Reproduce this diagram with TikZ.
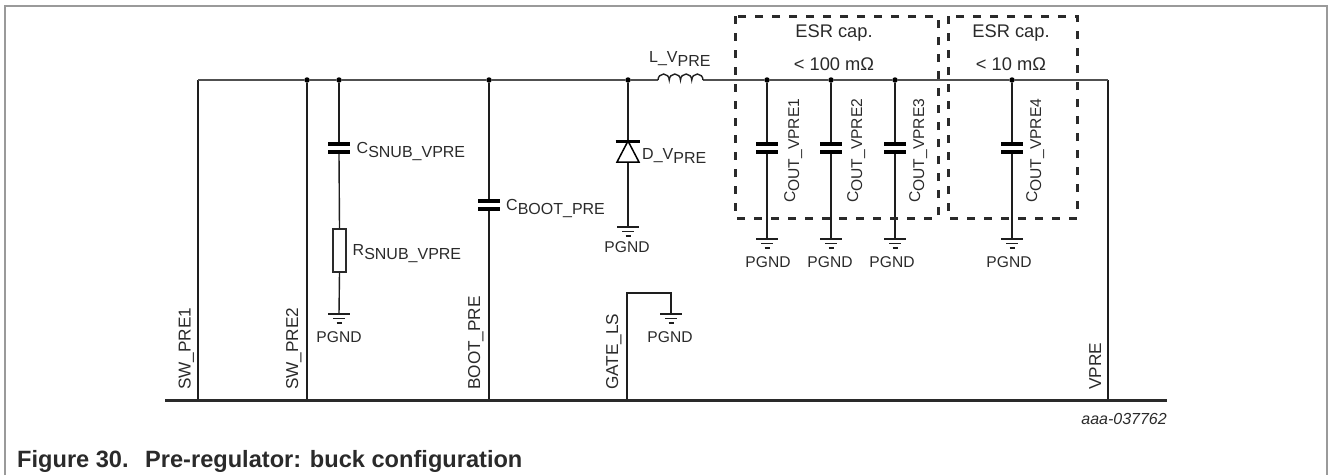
\documentclass[tikz,border=0pt]{standalone}
\usepackage{fontspec}
\setmainfont{Liberation Sans}
\definecolor{ink}{HTML}{2A2A2A}
\definecolor{wire}{HTML}{1E1E1E}
\definecolor{mainw}{HTML}{505050}
\definecolor{framec}{HTML}{9A9A9A}
\newcommand{\lowsub}[1]{\raisebox{-4pt}{#1}}
\newcommand{\lab}{\fontsize{15.6}{18}\selectfont}
\tikzset{
  x=1pt,y=-1pt,
  wireline/.style={draw=wire,line width=1.4pt},
  mainwire/.style={draw=mainw,line width=2pt},
  busline/.style={draw=ink,line width=3pt},
  framel/.style={draw=framec,line width=1.3pt},
  dashbox/.style={draw=ink,line width=3pt,dash pattern=on 8pt off 9pt},
  dotj/.style={circle,fill=black,inner sep=0pt,minimum size=5.5pt},
  capsym/.style={rectangle,inner sep=0pt,minimum width=22pt,minimum height=11.5pt,
    path picture={\fill[black] (path picture bounding box.north west) rectangle ([yshift=-3.4pt]path picture bounding box.north east);
      \fill[black] (path picture bounding box.south west) rectangle ([yshift=3.4pt]path picture bounding box.south east);}},
  resbox/.style={rectangle,draw=ink,line width=1.4pt,fill=white,inner sep=0pt,minimum width=13pt,minimum height=43pt},
  labelt/.style={text=ink,font=\lab,inner sep=0pt},
  sublabel/.style={text=ink,font=\fontsize{16}{18}\selectfont,inner sep=0pt,anchor=base west},
  pinlabel/.style={text=ink,font=\fontsize{17.2}{20}\selectfont,inner sep=0pt,rotate=90,anchor=base west},
  coutlabel/.style={text=ink,font=\lab,inner sep=0pt,rotate=90,anchor=base west},
  bigt/.style={text=ink,font=\fontsize{18.3}{21}\selectfont,inner sep=0pt},
  gndsym/.pic={
    \draw[wire,line width=1.3pt] (-11,0) -- (11,0);
    \draw[wire,line width=1.3pt] (-6,4.5) -- (6,4.5);
    \draw[wire,line width=1.3pt] (-2.5,9) -- (2.5,9);
  }
}
\begin{document}
\begin{tikzpicture}
\useasboundingbox (0,0) rectangle (1328,475);
% page frame
\draw[framel] (5,475) -- (5,6) -- (1327,6) -- (1327,475);

% junctions
\coordinate (corner) at (198,80);
\coordinate (endr) at (1108,80);
\node[dotj] (j2) at (307,80) {};
\node[dotj] (j3) at (339,80) {};
\node[dotj] (j4) at (489,80) {};
\node[dotj] (j5) at (628,80) {};
\node[dotj] (j6) at (767,80) {};
\node[dotj] (j7) at (831,80) {};
\node[dotj] (j8) at (895,80) {};
\node[dotj] (j9) at (1012,80) {};

% bus
\coordinate (busl) at (165,400);
\coordinate (busr) at (1167,400);
\coordinate (b1) at (198,400);
\coordinate (b2) at (307,400);
\coordinate (b3) at (489,400);
\coordinate (b4) at (627,400);
\coordinate (b5) at (1108,400);

% inductor
\coordinate (indl) at (658,80);
\coordinate (indr) at (703,80);

% components
\node[capsym] (csnub) at (339,148) {};
\node[resbox] (rsnub) at (339.5,250.5) {};
\node[capsym] (cboot) at (489,205) {};
\node[capsym] (c1) at (767,148) {};
\node[capsym] (c2) at (831,148) {};
\node[capsym] (c3) at (895,148) {};
\node[capsym] (c4) at (1012,148) {};

% ground points
\coordinate (g1) at (339,314);
\coordinate (g2) at (628,227);
\coordinate (g3) at (767,239);
\coordinate (g4) at (831,239);
\coordinate (g5) at (895,239);
\coordinate (g6) at (1012,239);
\coordinate (g7) at (671,314);
\coordinate (gl1) at (627,293);
\coordinate (gl2) at (671,293);
\foreach \g in {g1,g2,g3,g4,g5,g6,g7} \pic at (\g) {gndsym};

% diode
\coordinate (dk) at (628,141);
\coordinate (da) at (628,162);

% wires
\path[wireline] (endr) -- (b5);
\path[wireline] (corner) -- (b1);
\path[mainwire] (corner) -- (j2) -- (j3) -- (j4) -- (j5) -- (indl);
\path[mainwire] (indr) -- (j6) -- (j7) -- (j8) -- (j9) -- (endr);
\path[wireline] (j2) -- (b2);
\path[wireline] (j3) -- (csnub.north);
\path[wireline] (csnub.south) -- (rsnub.north);
\path[wireline] (rsnub.south) -- (g1);
\path[wireline] (j4) -- (cboot.north);
\path[wireline] (cboot.south) -- (b3);
\path[wireline] (j5) -- (dk);
\path[wireline] (da) -- (g2);
\path[wireline] (j6) -- (c1.north);
\path[wireline] (c1.south) -- (g3);
\path[wireline] (j7) -- (c2.north);
\path[wireline] (c2.south) -- (g4);
\path[wireline] (j8) -- (c3.north);
\path[wireline] (c3.south) -- (g5);
\path[wireline] (j9) -- (c4.north);
\path[wireline] (c4.south) -- (g6);
\path[wireline] (b4) -- (gl1) -- (gl2) -- (g7);
\path[busline] (busl) -- (busr);

% inductor humps
\draw[wire,line width=1.4pt] (indl) arc[start angle=180,end angle=0,x radius=5.625pt,y radius=6pt]
  arc[start angle=180,end angle=0,x radius=5.625pt,y radius=6pt]
  arc[start angle=180,end angle=0,x radius=5.625pt,y radius=6pt]
  arc[start angle=180,end angle=0,x radius=5.625pt,y radius=6pt];

% diode symbol
\draw[black,line width=1.5pt,line join=miter] (dk) -- (617,162) -- (639,162) -- cycle;
\draw[black,line width=3pt] (615.5,141) -- (640,141);

% dashed boxes
\draw[dashbox] (735,16) rectangle (938,218);
\draw[dashbox] (948,16) rectangle (1077,218);

% texts
\node[sublabel] (tcs) at (356.5,153) {C\lowsub{SNUB\_VPRE}};
\node[sublabel] (trs) at (352.5,255) {R\lowsub{SNUB\_VPRE}};
\node[sublabel] (tcb) at (506,210) {C\lowsub{BOOT\_PRE}};
\node[sublabel] (tdv) at (642,159) {D\_V\lowsub{PRE}};
\node[sublabel] (tlv) at (649,62) {L\_V\lowsub{PRE}};
\node[labelt] (p1) at (339,337) {PGND};
\node[labelt] (p2) at (627,247) {PGND};
\node[labelt] (p3) at (768,262) {PGND};
\node[labelt] (p4) at (830,262) {PGND};
\node[labelt] (p5) at (892,262) {PGND};
\node[labelt] (p6) at (1009,262) {PGND};
\node[labelt] (p7) at (670,337) {PGND};
\node[coutlabel] (tc1) at (795,203) {C\lowsub{OUT\_VPRE1}};
\node[coutlabel] (tc2) at (858,203) {C\lowsub{OUT\_VPRE2}};
\node[coutlabel] (tc3) at (920,203) {C\lowsub{OUT\_VPRE3}};
\node[coutlabel] (tc4) at (1037,203) {C\lowsub{OUT\_VPRE4}};
\node[bigt] (e1) at (834,33) {ESR cap.};
\node[bigt] (e2) at (834,64) {< 100 mΩ};
\node[bigt] (e3) at (1011,33) {ESR cap.};
\node[bigt] (e4) at (1011,64) {< 10 mΩ};
\node[pinlabel] (s1) at (190.5,390) {SW\_PRE1};
\node[pinlabel] (s2) at (298,390) {SW\_PRE2};
\node[pinlabel] (s3) at (480,390) {BOOT\_PRE};
\node[pinlabel] (s4) at (618,390) {GATE\_LS};
\node[pinlabel] (s5) at (1101,390) {VPRE};
\node[labelt,anchor=east,font=\fontsize{16}{18}\selectfont\itshape] (ref) at (1167,419) {aaa-037762};
\node[anchor=base west,inner sep=0pt,text=ink,font=\fontsize{23.6}{26}\selectfont\bfseries] (figcap) at (17,467) {Figure 30.\hspace{0.7em}Pre-regulator: buck configuration};
\end{tikzpicture}
\end{document}
